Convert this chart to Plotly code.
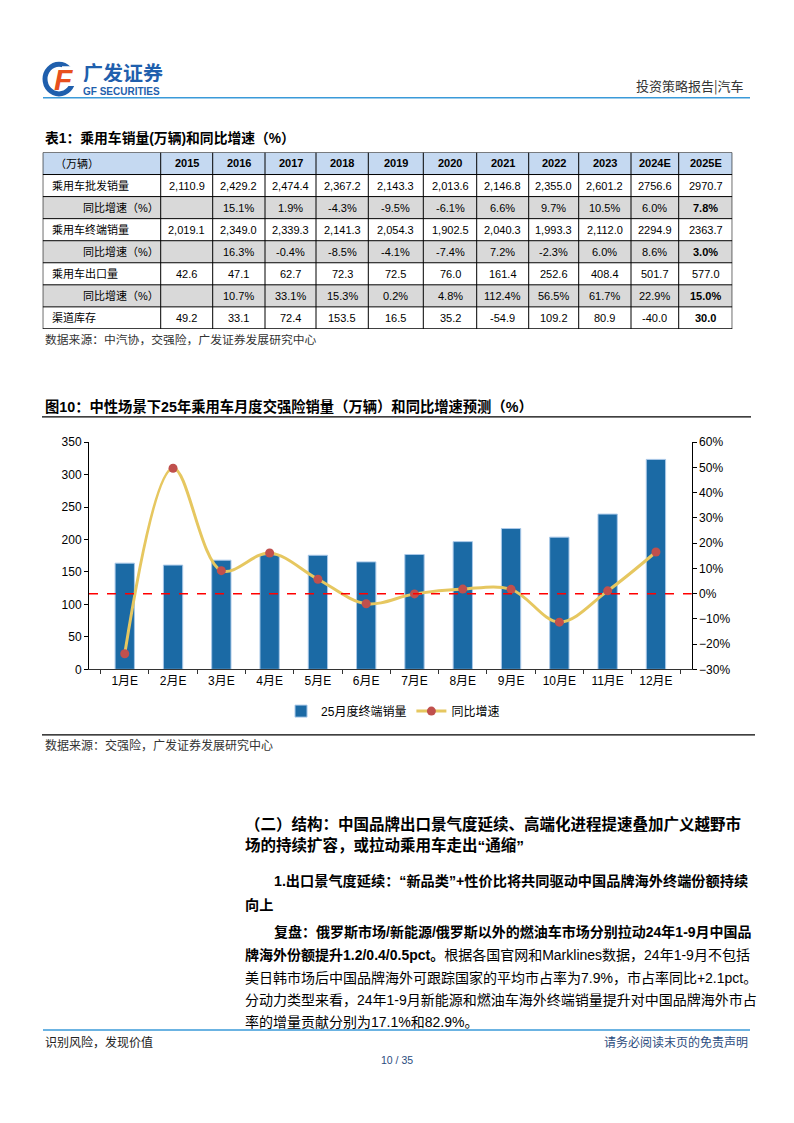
import plotly.graph_objects as go

# ---------------- data ----------------
years = ["2015", "2016", "2017", "2018", "2019", "2020", "2021", "2022", "2023", "2024E", "2025E"]
row_labels = ["乘用车批发销量", "同比增速（%）", "乘用车终端销量", "同比增速（%）",
              "乘用车出口量", "同比增速（%）", "渠道库存"]
wholesale = [2110.9, 2429.2, 2474.4, 2367.2, 2143.3, 2013.6, 2146.8, 2355.0, 2601.2, 2756.6, 2970.7]
wholesale_yoy = [None, 15.1, 1.9, -4.3, -9.5, -6.1, 6.6, 9.7, 10.5, 6.0, 7.8]
retail = [2019.1, 2349.0, 2339.3, 2141.3, 2054.3, 1902.5, 2040.3, 1993.3, 2112.0, 2294.9, 2363.7]
retail_yoy = [None, 16.3, -0.4, -8.5, -4.1, -7.4, 7.2, -2.3, 6.0, 8.6, 3.0]
export = [42.6, 47.1, 62.7, 72.3, 72.5, 76.0, 161.4, 252.6, 408.4, 501.7, 577.0]
export_yoy = [None, 10.7, 33.1, 15.3, 0.2, 4.8, 112.4, 56.5, 61.7, 22.9, 15.0]
inventory = [49.2, 33.1, 72.4, 153.5, 16.5, 35.2, -54.9, 109.2, 80.9, -40.0, 30.0]

months = ["1月E", "2月E", "3月E", "4月E", "5月E", "6月E", "7月E", "8月E", "9月E", "10月E", "11月E", "12月E"]
sales_2025 = [163.6, 160.6, 168.2, 176.5, 175.8, 165.6, 177.0, 196.8, 217.0, 203.7, 239.2, 323.5]
yoy_2025 = [-23.8, 49.7, 9.1, 16.1, 5.7, -4.0, -0.1, 1.8, 1.7, -11.3, 1.1, 16.5]

# ---------------- helpers ----------------
W, H = 794, 1123
def px(x):
    return x / W
def py(y):
    return 1 - y / H

FONT = "Liberation Sans, Arial, Noto Sans CJK SC"
BLUE_BAR = "#1B6AA5"

def fmt_num(v, col):
    if v is None:
        return ""
    if years[col].endswith("E"):
        return f"{v:.1f}"
    return f"{v:,.1f}"

def fmt_pct(v):
    if v is None:
        return ""
    return f"{v:.1f}%"

rows = [
    [fmt_num(v, i) for i, v in enumerate(wholesale)],
    [fmt_pct(v) for v in wholesale_yoy],
    [fmt_num(v, i) for i, v in enumerate(retail)],
    [fmt_pct(v) for v in retail_yoy],
    [fmt_num(v, i) for i, v in enumerate(export)],
    [fmt_pct(v) for v in export_yoy],
    [fmt_num(v, i) for i, v in enumerate(inventory)],
]
bold_last = {1, 3, 5, 6}

# table geometry (style): column widths in pixels
col_w = [118, 52, 52.3, 51, 52.3, 55, 53.4, 52, 50, 52.3, 47.7, 53.6]
edges = [0.0]
for w in col_w:
    edges.append(edges[-1] + w)
n_rows = len(row_labels) + 1

fig = go.Figure()

# placeholder trace so the table subplot exists
fig.add_trace(go.Scatter(x=[None], y=[None], xaxis="x3", yaxis="y3", showlegend=False, hoverinfo="skip"))

# ---------------- chart ----------------
fig.add_trace(go.Bar(
    x=months, y=sales_2025, name="25月度终端销量",
    marker=dict(color=BLUE_BAR, line=dict(color="#A9C8E8", width=1)),
    width=0.4, xaxis="x", yaxis="y",
))
fig.add_trace(go.Scatter(
    x=months, y=yoy_2025, name="同比增速", mode="lines+markers",
    line=dict(color="#E6C760", width=3, shape="spline", smoothing=1.0),
    marker=dict(color="#C0504D", size=9),
    xaxis="x", yaxis="y2",
))

axis_font = dict(family=FONT, size=12, color="#000000")
fig.update_layout(
    width=W, height=H,
    margin=dict(l=0, r=0, t=0, b=0),
    paper_bgcolor="white", plot_bgcolor="white",
    font=dict(family=FONT, color="#000000"),
    showlegend=True,
    legend=dict(orientation="h", x=0.495, xanchor="center", y=py(713), yanchor="middle",
                font=dict(family=FONT, size=12, color="#000000"), bgcolor="rgba(0,0,0,0)",
                itemwidth=30, tracegroupgap=0),
    bargap=0.6,
    xaxis=dict(domain=[px(89), px(691.7)], anchor="y", type="category",
               showline=True, linecolor="#333333", linewidth=1,
               ticks="outside", tickson="boundaries", ticklen=4, tickcolor="#333333",
               tickfont=axis_font, showgrid=False, fixedrange=True),
    yaxis=dict(domain=[py(670.7), py(440.7)], anchor="x", range=[0, 350], dtick=50,
               showline=True, linecolor="#000000", linewidth=1,
               ticks="outside", ticklen=4, tickcolor="#000000",
               tickfont=axis_font, showgrid=False, zeroline=False),
    yaxis2=dict(overlaying="y", side="right", anchor="x", range=[-30, 60], dtick=10,
                ticksuffix="%", showline=True, linecolor="#000000", linewidth=1,
                ticks="outside", ticklen=4, tickcolor="#000000",
                tickfont=axis_font, showgrid=False, zeroline=False),
    xaxis3=dict(domain=[px(42.7), px(732.3)], anchor="y3", range=[0, edges[-1]],
                visible=False, fixedrange=True),
    yaxis3=dict(domain=[py(326), py(147.3)], anchor="x3", range=[n_rows, 0],
                visible=False, fixedrange=True),
)

shapes = []
ann = []

# ---------------- table (on its own axes) ----------------
for r in range(n_rows):
    if r == 0:
        fill = "#C5D9F1"
    elif r % 2 == 0:
        fill = "#D9D9D9"
    else:
        fill = "white"
    shapes.append(dict(type="rect", xref="x3", yref="y3", x0=0, x1=edges[-1], y0=r, y1=r + 1,
                       fillcolor=fill, line=dict(width=0), layer="below"))
for r in range(n_rows + 1):
    shapes.append(dict(type="line", xref="x3", yref="y3", x0=0, x1=edges[-1], y0=r, y1=r,
                       line=dict(color="#000000", width=1.2 if r in (0, n_rows) else 1)))
for i, e in enumerate(edges):
    shapes.append(dict(type="line", xref="x3", yref="y3", x0=e, x1=e, y0=0, y1=n_rows,
                       line=dict(color="#000000", width=1.2 if i in (0, len(edges) - 1) else 1)))

cell_font = dict(family=FONT, size=11, color="#000000")
def cell(x, y, s, xanchor="center"):
    ann.append(dict(xref="x3", yref="y3", x=x, y=y, text=s, showarrow=False,
                    xanchor=xanchor, yanchor="middle", font=cell_font))

cell(10, 0.5, "（万辆）", "left")
for c, yname in enumerate(years):
    cell((edges[c + 1] + edges[c + 2]) / 2, 0.5, f"<b>{yname}</b>")
for r, lab in enumerate(row_labels):
    yy = r + 1.5
    cell(38 if "同比" in lab else 7, yy, lab, "left")
    for c in range(len(years)):
        t = rows[r][c]
        if c == len(years) - 1 and r in bold_last:
            t = f"<b>{t}</b>"
        cell((edges[c + 1] + edges[c + 2]) / 2, yy, t)

# ---------------- decorations ----------------
shapes.append(dict(type="line", xref="x domain", yref="y2", x0=0, x1=1, y0=0, y1=0,
                   line=dict(color="#FF0000", width=1.5, dash="dash"), layer="above"))
shapes.append(dict(type="line", xref="paper", yref="paper", x0=px(43), x1=px(750), y0=py(92), y1=py(92),
                   line=dict(color="#3A9AD9", width=1.5)))
shapes.append(dict(type="line", xref="paper", yref="paper", x0=px(42), x1=px(751), y0=py(415), y1=py(415),
                   line=dict(color="#000000", width=1.2)))
shapes.append(dict(type="line", xref="paper", yref="paper", x0=px(42), x1=px(755), y0=py(737), y1=py(737),
                   line=dict(color="#000000", width=1.2)))
shapes.append(dict(type="line", xref="paper", yref="paper", x0=px(43), x1=px(750), y0=py(1036), y1=py(1036),
                   line=dict(color="#3A9AD9", width=1.5)))
# logo ring
shapes.append(dict(type="circle", xref="paper", yref="paper", x0=px(45), x1=px(73), y0=py(88), y1=py(58),
                   line=dict(color="#1F5FAD", width=5)))
shapes.append(dict(type="rect", xref="paper", yref="paper", x0=px(62), x1=px(76), y0=py(80), y1=py(60),
                   fillcolor="white", line=dict(width=0)))
fig.update_layout(shapes=shapes)

def text(x, y, s, size=12, color="#000000", xanchor="left", bold=False, family=FONT, yanchor="middle",
         height=None):
    if bold:
        s = f"<b>{s}</b>"
    a = dict(xref="paper", yref="paper", x=px(x), y=py(y), text=s, showarrow=False,
             xanchor=xanchor, yanchor=yanchor, align=xanchor if xanchor != "center" else "center",
             font=dict(family=family, size=size, color=color))
    if height is not None:
        a["height"] = height
        a["valign"] = "middle"
    ann.append(a)

# logo
text(52, 73, "<i>F</i>", size=30, color="#E8501E", bold=True)
text(81, 66, "广发证券", size=20, color="#1F5FAD", bold=True, family="Noto Sans CJK SC", height=20)
text(81, 85, "GF SECURITIES", size=10, color="#1F5FAD", bold=True, height=10)
text(746, 79, "投资策略报告|汽车", size=13, color="#333333", xanchor="right", family="Noto Sans CJK SC")

# table title & source
text(43, 133, "表1：乘用车销量(万辆)和同比增速（%）", size=13.8, bold=True)
text(43, 337, "数据来源：中汽协，交强险，广发证券发展研究中心", size=11.8, color="#333333")

# chart title & source
text(43, 405, "图10：中性场景下25年乘用车月度交强险销量（万辆）和同比增速预测（%）", size=14.3, bold=True)
text(43, 748, "数据来源：交强险，广发证券发展研究中心", size=12, color="#333333")

# body text
text(243, 827, "（二）结构：中国品牌出口景气度延续、高端化进程提速叠加广义越野市", size=15.5, bold=True)
text(243, 849, "场的持续扩容，或拉动乘用车走出“通缩”", size=15.5, bold=True)
text(272, 885, "1.出口景气度延续：“新品类”+性价比将共同驱动中国品牌海外终端份额持续", size=14.2, bold=True)
text(243, 909, "向上", size=14.2, bold=True)
text(272, 937, "复盘：俄罗斯市场/新能源/俄罗斯以外的燃油车市场分别拉动24年1-9月中国品", size=14, bold=True)
text(243, 960, "<b>牌海外份额提升1.2/0.4/0.5pct。</b>根据各国官网和Marklines数据，24年1-9月不包括", size=14)
text(243, 983, "美日韩市场后中国品牌海外可跟踪国家的平均市占率为7.9%，市占率同比+2.1pct。", size=14)
text(243, 1006, "分动力类型来看，24年1-9月新能源和燃油车海外终端销量提升对中国品牌海外市占", size=14)
text(243, 1028, "率的增量贡献分别为17.1%和82.9%。", size=14)

# footer
text(43, 1048, "识别风险，发现价值", size=12, color="#222222", family="Noto Sans CJK SC")
text(750, 1048, "请务必阅读末页的免责声明", size=12, color="#2B4C7E", xanchor="right", family="Noto Sans CJK SC")
text(397, 1066, "10 / 35", size=10.5, color="#2B4C7E", xanchor="center")

fig.update_layout(annotations=ann)

fig.write_html("out.html")
